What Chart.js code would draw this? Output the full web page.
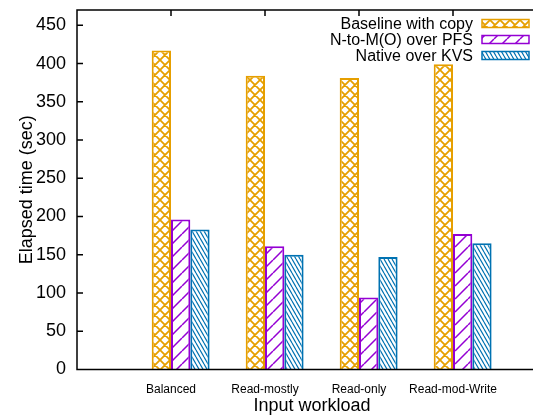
<!DOCTYPE html>
<html>
<head>
<meta charset="utf-8">
<script src="https://cdn.jsdelivr.net/npm/chart.js@4.4.1/dist/chart.umd.min.js"></script>
<style>
    body { margin: 0; background: #fff; overflow: hidden; }
    #wrap { width: 533px; height: 418px; overflow: hidden; }
</style>
</head>
<body>
<div id="wrap"><canvas id="elapsed-chart" width="560" height="418"></canvas></div>
<script>
const categories = ["Balanced", "Read-mostly", "Read-only", "Read-mod-Write"];
const baselineCopy = [417, 384, 381, 399];
const ntomPfs = [196, 161, 94, 177];
const nativeKvs = [183, 150, 147, 165];
const yTicks = [0, 50, 100, 150, 200, 250, 300, 350, 400, 450];

const groupPct = 0.616;
// gnuplot puts the label at the left edge of the 2nd bar
const labelShift = groupPct / 6;

Chart.defaults.font.family = "'Liberation Sans', Arial, sans-serif";
Chart.defaults.color = "#000";

// gnuplot-like fill patterns
const makePattern = (color, w, h, lineWidth, dirs) => {
    const c = document.createElement("canvas");
    c.width = w;
    c.height = h;
    const g = c.getContext("2d");
    g.fillStyle = "#fff";
    g.fillRect(0, 0, w, h);
    g.strokeStyle = color;
    g.lineWidth = lineWidth;
    g.beginPath();
    [-w, 0, w].forEach(dx => {
        if (dirs.includes("/")) {
            g.moveTo(dx, h);
            g.lineTo(dx + w, 0);
        }
        if (dirs.includes("\\")) {
            g.moveTo(dx, 0);
            g.lineTo(dx + w, h);
        }
    });
    g.stroke();
    return g.createPattern(c, "repeat");
}

const orange = "#E69F00";
const purple = "#9400D3";
const blue = "#0072B2";

const framePlugin = {
    id: "frame",
    afterDraw(chart) {
        const { ctx, chartArea: a, scales } = chart;
        ctx.save();
        ctx.strokeStyle = "#000";
        ctx.lineWidth = 1.5;
        ctx.beginPath();
        ctx.moveTo(a.right, a.top);
        ctx.lineTo(a.left, a.top);
        ctx.lineTo(a.left, a.bottom);
        ctx.lineTo(a.right, a.bottom);
        scales.y.ticks.forEach(t => {
            const y = scales.y.getPixelForValue(t.value);
            ctx.moveTo(a.left, y);
            ctx.lineTo(a.left + 6, y);
        });
        scales.x.ticks.forEach(t => {
            const x = scales.x.getPixelForValue(t.value);
            ctx.moveTo(x, a.top);
            ctx.lineTo(x, a.top + 6);
        });
        ctx.stroke();

        // key, top right like gnuplot
        ctx.font = "16px 'Liberation Sans', Arial, sans-serif";
        ctx.textAlign = "right";
        ctx.textBaseline = "alphabetic";
        chart.data.datasets.forEach((ds, i) => {
            const base = 29 + i * 16;
            ctx.fillStyle = "#000";
            ctx.fillText(ds.label, 473, base);
            ctx.fillStyle = ds.backgroundColor;
            ctx.fillRect(482, base - 9.5, 47, 8);
            ctx.strokeStyle = ds.borderColor;
            ctx.lineWidth = 1.5;
            ctx.strokeRect(482, base - 9.5, 47, 8);
        });
        ctx.restore();
    }
};

const ctx = document.getElementById("elapsed-chart").getContext("2d");

new Chart(ctx, {
    type: "bar",
    data: {
        datasets: [{
            label: "Baseline with copy",
            data: categories.map((c, i) => ({ x: i, y: baselineCopy[i] })),
            borderColor: orange,
            backgroundColor: makePattern(orange, 10, 10, 1.8, "/\\"),
            borderWidth: 2
        }, {
            label: "N-to-M(O) over PFS",
            data: categories.map((c, i) => ({ x: i, y: ntomPfs[i] })),
            borderColor: purple,
            backgroundColor: makePattern(purple, 13, 13, 1.5, "/"),
            borderWidth: 2
        }, {
            label: "Native over KVS",
            data: categories.map((c, i) => ({ x: i, y: nativeKvs[i] })),
            borderColor: blue,
            backgroundColor: makePattern(blue, 4, 7, 1.2, "\\"),
            borderWidth: 2
        }]
    },
    options: {
        responsive: false,
        animation: false,
        layout: {
            padding: { top: 10, right: 13, left: 0, bottom: 0 }
        },
        datasets: {
            bar: {
                barPercentage: 1,
                categoryPercentage: groupPct
            }
        },
        plugins: {
            legend: { display: false },
            tooltip: { enabled: false }
        },
        scales: {
            x: {
                type: "linear",
                min: -1 - labelShift,
                max: 4 - labelShift,
                offset: false,
                grid: { display: false, drawTicks: false, offset: false },
                border: { display: false },
                afterBuildTicks: scale => {
                    scale.ticks = categories.map((c, i) => ({ value: i - labelShift }));
                },
                afterFit: scale => {
                    scale.height = 48.5;
                    scale.paddingLeft = 0;
                    scale.paddingRight = 0;
                },
                ticks: {
                    autoSkip: false,
                    maxRotation: 0,
                    padding: 13,
                    font: { size: 12 },
                    callback: (v, i) => categories[i]
                },
                title: {
                    display: true,
                    text: "Input workload",
                    font: { size: 18 },
                    padding: { top: 0, bottom: 1 }
                }
            },
            y: {
                min: 0,
                max: 470,
                grid: { display: false, drawTicks: false },
                border: { display: false },
                afterBuildTicks: scale => {
                    scale.ticks = yTicks.map(v => ({ value: v }));
                },
                afterFit: scale => {
                    scale.width = 77;
                    scale.paddingTop = 0;
                    scale.paddingBottom = 0;
                },
                ticks: {
                    padding: 11,
                    font: { size: 18 }
                },
                title: {
                    display: true,
                    text: "Elapsed time (sec)",
                    font: { size: 18 },
                    padding: { top: 16, bottom: 0 }
                }
            }
        }
    },
    plugins: [framePlugin]
});
</script>
</body>
</html>
